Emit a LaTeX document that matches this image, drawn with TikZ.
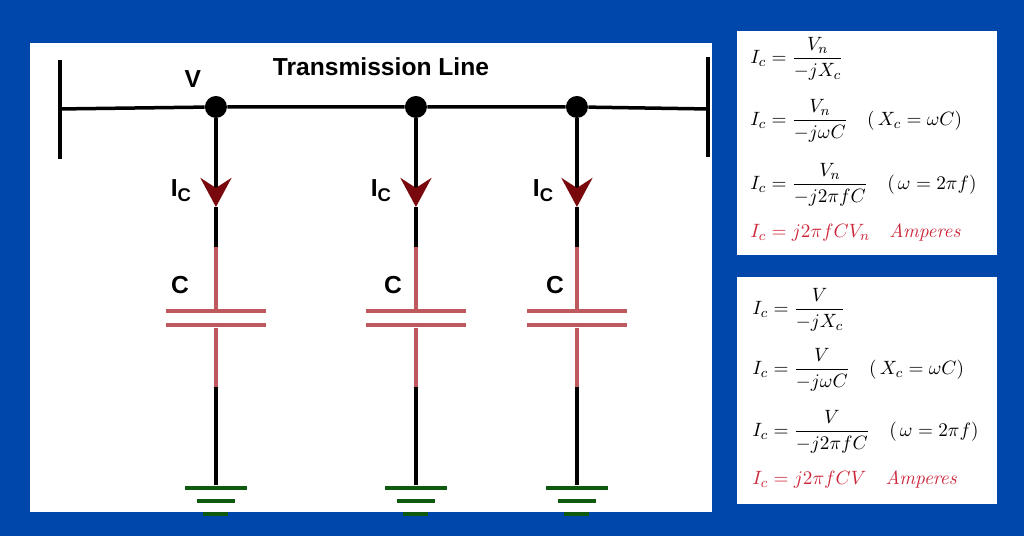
\documentclass[tikz,border=0pt]{standalone}
\usepackage{amsmath}
\usepackage[no-math]{fontspec}
\usepackage{xcolor}
\usepackage{tikz}
\usetikzlibrary{positioning}
\usetikzlibrary{arrows.meta}
\newfontfamily\labelfont{Liberation Sans}
\definecolor{bgblue}{RGB}{0,71,171}
\definecolor{capred}{RGB}{190,90,95}
\definecolor{tipred}{RGB}{120,8,12}
\definecolor{gndgreen}{RGB}{15,90,15}
\definecolor{eqred}{RGB}{205,40,60}
\newcommand{\icur}{I\raisebox{-.4ex}{\fontsize{10.5}{12}\selectfont C}}
\tikzset{
	wire/.style={line width=.07cm, black},
	capwire/.style={line width=.07cm, capred},
	flow/.style={wire, -{Stealth[length=.58cm, width=.62cm, inset=.2cm, color=tipred]}},
	junction/.style={circle, fill=black, minimum size=.44cm, inner sep=0pt},
	plate/.style={rectangle, fill=capred, minimum width=2cm, minimum height=.08cm, inner sep=0pt},
	gnd/.style={rectangle, fill=gndgreen, minimum height=.08cm, inner sep=0pt},
	panel/.style={rectangle, fill=white, inner sep=0pt},
	tag/.style={font=\labelfont\bfseries\fontsize{14}{16}\selectfont, inner sep=0pt},
	eqn/.style={anchor=west, inner sep=0pt, font=\fontsize{11}{13}\selectfont},
}
\begin{document}
\begin{tikzpicture}[x=.02cm, y=-.02cm, on grid]
	% Define panels
	\node[inner sep=0pt, fill=bgblue, minimum width=20.48cm, minimum height=10.72cm] (bg) at (512,268) {};
	\node[panel, minimum width=13.64cm, minimum height=9.38cm] (board) at (371,277.5) {};
	\node[panel, minimum width=5.2cm, minimum height=4.48cm] (eqtop) at (867,143) {};
	\node[panel, minimum width=5.2cm, minimum height=4.54cm] (eqbot) at (867,390.5) {};
	% Define nodes
	\coordinate (busl) at (60,109);
	\coordinate (buslt) at (60,60);
	\coordinate (buslb) at (60,159);
	\coordinate (busr) at (708,109);
	\coordinate (busrt) at (708,57);
	\coordinate (busrb) at (708,157);
	\node[junction] (v1) at (216,107) {};
	\node[junction, right=4cm of v1] (v2) {};
	\node[junction, right=3.22cm of v2] (v3) {};
	% first branch
	\coordinate[below=2cm of v1] (t1);
	\coordinate[below=.8cm of t1] (r1);
	\node[plate, below=1.24cm of r1] (pa1) {};
	\node[plate, below=.28cm of pa1] (pb1) {};
	\coordinate[below=1.24cm of pb1] (k1);
	\node[gnd, minimum width=1.24cm, below=1.96cm of k1] (ga1) {};
	\node[gnd, minimum width=.76cm, below=.26cm of ga1] (gb1) {};
	\node[gnd, minimum width=.5cm, below=.26cm of gb1] (gc1) {};
	% second branch
	\coordinate[below=2cm of v2] (t2);
	\coordinate[below=.8cm of t2] (r2);
	\node[plate, below=1.24cm of r2] (pa2) {};
	\node[plate, below=.28cm of pa2] (pb2) {};
	\coordinate[below=1.24cm of pb2] (k2);
	\node[gnd, minimum width=1.24cm, below=1.96cm of k2] (ga2) {};
	\node[gnd, minimum width=.76cm, below=.26cm of ga2] (gb2) {};
	\node[gnd, minimum width=.5cm, below=.26cm of gb2] (gc2) {};
	% third branch
	\coordinate[below=2cm of v3] (t3);
	\coordinate[below=.8cm of t3] (r3);
	\node[plate, below=1.24cm of r3] (pa3) {};
	\node[plate, below=.28cm of pa3] (pb3) {};
	\coordinate[below=1.24cm of pb3] (k3);
	\node[gnd, minimum width=1.24cm, below=1.96cm of k3] (ga3) {};
	\node[gnd, minimum width=.76cm, below=.26cm of ga3] (gb3) {};
	\node[gnd, minimum width=.5cm, below=.26cm of gb3] (gc3) {};
	% Labels
	\node[tag] (title) at (381,67) {Transmission Line};
	\node[tag] (vlabel) at (193,79) {V};
	\node[tag] (i1) at (181,191) {\icur};
	\node[tag] (i2) at (381,191) {\icur};
	\node[tag] (i3) at (543,191) {\icur};
	\node[tag] (c1) at (180,285) {C};
	\node[tag] (c2) at (393,285) {C};
	\node[tag] (c3) at (555,285) {C};
	% Connect the nodes
	\draw[wire] (busl) -- (v1) -- (v2) -- (v3) -- (busr);
	\draw[wire] (buslt) -- (buslb);
	\draw[wire] (busrt) -- (busrb);
	\draw[flow] (v1) -- (t1);
	\draw[flow] (v2) -- (t2);
	\draw[flow] (v3) -- (t3);
	\draw[wire] (t1) -- (r1);
	\draw[wire] (t2) -- (r2);
	\draw[wire] (t3) -- (r3);
	\draw[capwire] (r1) -- (pa1);
	\draw[capwire] (r2) -- (pa2);
	\draw[capwire] (r3) -- (pa3);
	\draw[capwire] (pb1) -- (k1);
	\draw[capwire] (pb2) -- (k2);
	\draw[capwire] (pb3) -- (k3);
	\draw[wire] (k1) -- (ga1);
	\draw[wire] (k2) -- (ga2);
	\draw[wire] (k3) -- (ga3);
	% Equations
	\node[eqn] (e1) at (750,59) {$I_c=\dfrac{V_n}{-jX_c}$};
	\node[eqn] (e2) at (750,121) {$I_c=\dfrac{V_n}{-j\omega C}\quad(\,X_c=\omega C)$};
	\node[eqn] (e3) at (750,185) {$I_c=\dfrac{V_n}{-j2\pi fC}\quad(\,\omega=2\pi f)$};
	\node[eqn, text=eqred] (e4) at (750,233) {$I_c=j2\pi fCV_n\quad \mathit{Amperes}$};
	\node[eqn] (f1) at (752,310) {$I_c=\dfrac{V}{-jX_c}$};
	\node[eqn] (f2) at (752,370) {$I_c=\dfrac{V}{-j\omega C}\quad(\,X_c=\omega C)$};
	\node[eqn] (f3) at (752,432) {$I_c=\dfrac{V}{-j2\pi fC}\quad(\,\omega=2\pi f)$};
	\node[eqn, text=eqred] (f4) at (752,480) {$I_c=j2\pi fCV\quad \mathit{Amperes}$};
\end{tikzpicture}
\end{document}
